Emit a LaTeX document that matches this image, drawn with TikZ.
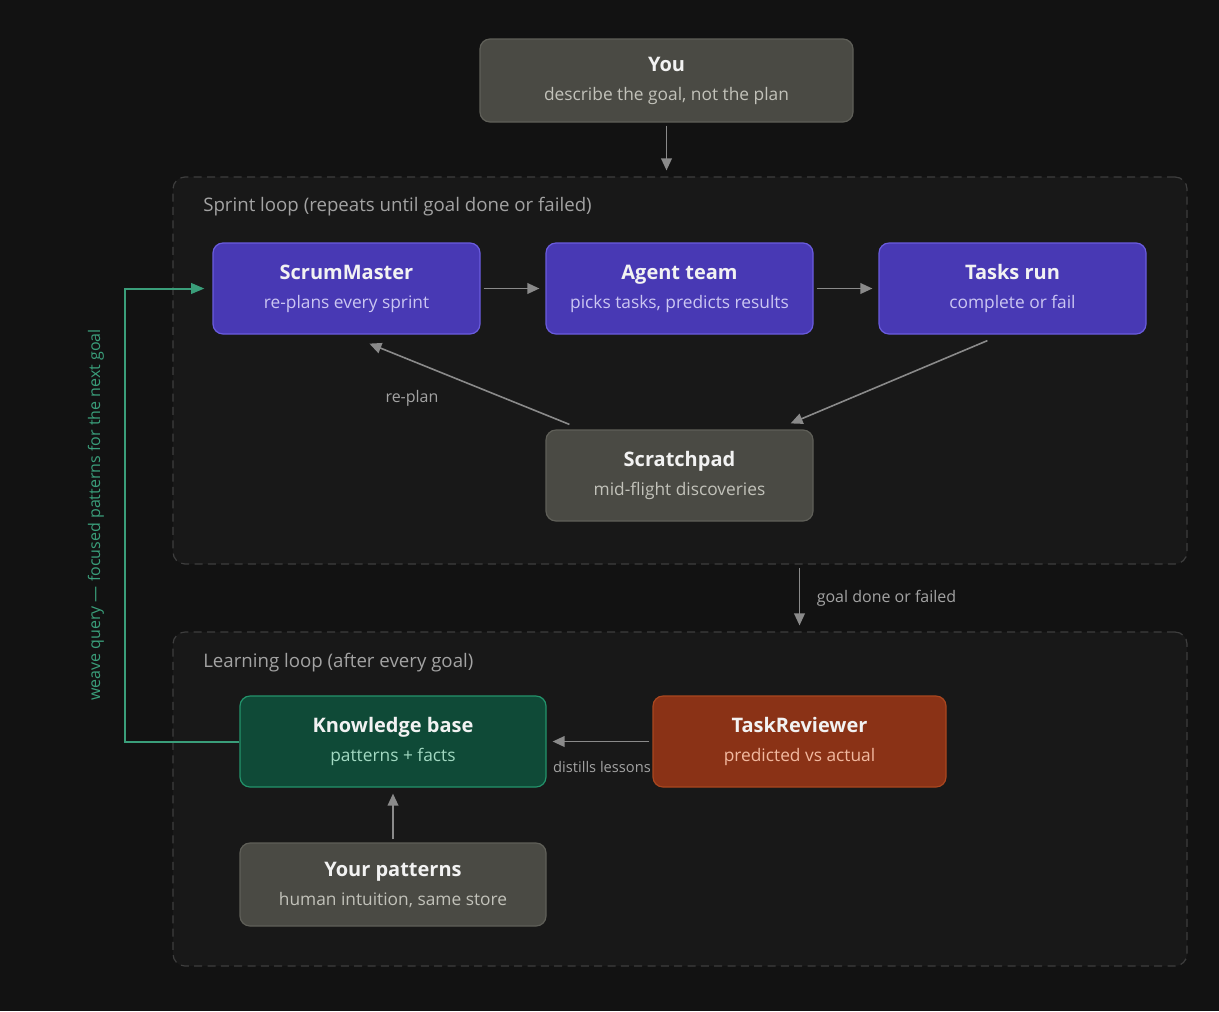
\documentclass[tikz,border=0pt]{standalone}
\usepackage{fontspec}
\setmainfont{Open Sans}
\usetikzlibrary{arrows.meta,positioning,calc}
\definecolor{bgdark}{HTML}{121212}
\definecolor{loopfill}{HTML}{181818}
\definecolor{loopline}{HTML}{3E3E3E}
\definecolor{looptext}{HTML}{A3A3A3}
\definecolor{greyfill}{HTML}{4A4A44}
\definecolor{greyline}{HTML}{5F5F58}
\definecolor{greysub}{HTML}{C2C2BA}
\definecolor{purplefill}{HTML}{4839B4}
\definecolor{purpleline}{HTML}{6A5CDE}
\definecolor{purplesub}{HTML}{CBC6F2}
\definecolor{greenfill}{HTML}{0F4A37}
\definecolor{greenline}{HTML}{23936B}
\definecolor{greensub}{HTML}{A2D9C2}
\definecolor{orangefill}{HTML}{8A3216}
\definecolor{orangeline}{HTML}{A9471F}
\definecolor{orangesub}{HTML}{F2B9A0}
\definecolor{arrowgrey}{HTML}{8A8A8A}
\definecolor{weavegreen}{HTML}{3A9E7A}
\definecolor{titlewhite}{HTML}{F2F2F2}
\newcommand{\boxtxt}[3]{#1\\{\fontsize{13}{21.75}\selectfont\mdseries\color{#3}#2}}

\begin{document}
\begin{tikzpicture}[
    x=0.75pt, y=-0.75pt,
    card/.style={draw, rounded corners=7.5pt, line width=0.9pt, align=center, inner sep=0pt,
        text=titlewhite, font=\fontsize{15}{21.75}\selectfont\bfseries},
    greycard/.style={card, fill=greyfill, draw=greyline},
    agentcard/.style={card, fill=purplefill, draw=purpleline, minimum width=200.25pt, minimum height=68.25pt},
    kbcard/.style={card, fill=greenfill, draw=greenline},
    reviewcard/.style={card, fill=orangefill, draw=orangeline},
    loopbox/.style={draw=loopline, fill=loopfill, dashed, dash pattern=on 6pt off 4pt, rounded corners=9pt,
        line width=0.9pt, minimum width=760.5pt},
    looplabel/.style={text=looptext, font=\fontsize{14}{16}\selectfont, anchor=west, inner sep=0pt},
    edgelabel/.style={text=looptext, font=\fontsize{12}{14}\selectfont},
    flow/.style={draw=arrowgrey, line width=1.2pt, -{Triangle[length=9pt,width=8pt]},
        shorten <=2.25pt, shorten >=4.5pt},
]
    % page
    \fill[bgdark] (0,0) rectangle (1219,1011);

    % the two loops
    \node[loopbox, minimum height=290.25pt] (sprint) at (680,370.5) {};
    \node[loopbox, minimum height=250.5pt] (learning) at (680,799) {};
    \node[looplabel] at (203,207) {Sprint loop (repeats until goal done or failed)};
    \node[looplabel] at (203,663) {Learning loop (after every goal)};

    % top
    \node[greycard, minimum width=279.75pt, minimum height=62.25pt] (you) at (666.5,80.5)
        {\boxtxt{You}{describe the goal, not the plan}{greysub}};

    % sprint loop
    \node[agentcard] (scrum) at (346.5,288.5) {\boxtxt{ScrumMaster}{re-plans every sprint}{purplesub}};
    \node[agentcard] (agent) at (679.5,288.5) {\boxtxt{Agent team}{picks tasks, predicts results}{purplesub}};
    \node[agentcard] (tasks) at (1012.5,288.5) {\boxtxt{Tasks run}{complete or fail}{purplesub}};
    \node[greycard, minimum width=200.25pt, minimum height=68.25pt] (scratch) at (679.5,475.5)
        {\boxtxt{Scratchpad}{mid-flight discoveries}{greysub}};

    % learning loop
    \node[kbcard, minimum width=229.5pt, minimum height=68.25pt] (kb) at (393,741.5)
        {\boxtxt{Knowledge base}{patterns + facts}{greensub}};
    \node[reviewcard, minimum width=219.75pt, minimum height=68.25pt] (reviewer) at (799.5,741.5)
        {\boxtxt{TaskReviewer}{predicted vs actual}{orangesub}};
    \node[greycard, minimum width=229.5pt, minimum height=62.25pt] (yours) at (393,884.5)
        {\boxtxt{Your patterns}{human intuition, same store}{greysub}};

    % arrows
    \draw[flow] (you.south) -- (you.south |- sprint.north);
    \draw[flow] (scrum) -- (agent);
    \draw[flow] (agent) -- (tasks);
    \draw[flow, shorten <=0pt, shorten >=0pt] ([xshift=81.75pt,yshift=-4.5pt]tasks.south west)
        -- ([xshift=-17.25pt,yshift=4.5pt]scratch.north east);
    \draw[flow, shorten <=0pt, shorten >=0pt] ([xshift=18pt,yshift=3.75pt]scratch.north west)
        -- ([xshift=117.75pt,yshift=-6.75pt]scrum.south west);
    \node[edgelabel] at (412,398) {re-plan};
    \draw[flow] (sprint.south -| reviewer.north) -- (learning.north -| reviewer.north)
        node[edgelabel, midway, right=9pt] {goal done or failed};
    \draw[flow] (reviewer) -- (kb);
    \node[edgelabel, font=\fontsize{11}{13}\selectfont] at (602,767) {distills lessons};
    \draw[flow] (yours) -- (kb);

    % weave query back to the ScrumMaster
    \draw[weavegreen, line width=1.5pt, -{Triangle[length=10pt,width=8pt]}, shorten >=6pt]
        (kb.west) -- ++(-114,0) |- (scrum.west);
    \node[text=weavegreen, rotate=90, font=\fontsize{12}{14}\selectfont] at (96,515)
        {weave query — focused patterns for the next goal};
\end{tikzpicture}
\end{document}
